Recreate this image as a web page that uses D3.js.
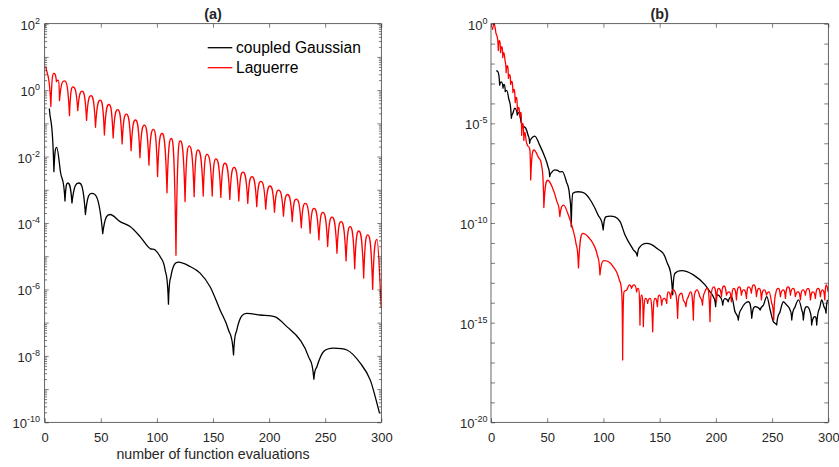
<!DOCTYPE html>
<html><head><meta charset="utf-8">
<script src="https://cdn.jsdelivr.net/npm/d3@7"></script>
<style>html,body{margin:0;padding:0;background:#fff;}</style>
</head><body>
<script>
// ---------- DATA ----------
const xTicks = [0, 50, 100, 150, 200, 250, 300];
const aYLabelExp = [2, 0, -2, -4, -6, -8, -10];
const bYLabelExp = [0, -5, -10, -15, -20];
const seriesNames = ["coupled Gaussian", "Laguerre"];
const titles = ["(a)", "(b)"];
const xLabel = "number of function evaluations";

// panel (a): coupled Gaussian
const aGaussX = [4.1,8.2,10.7,14.2,18.1,20.5,24.3,30.4,36.3,41.9,51.7,58.3,67.2,76.1,85,93.9,98.4,102.8,107.3,110.3,112.4,119.2,129.6,138.5,147.4,156.3,163.8,168.3,171.2,180.1,192,205.4,215.8,227.7,235.1,239.9,242.6,248.6,257.5,269.4,281.3,290.2,298.5];
const aGaussY = [0.28,3.5e-3,1.9e-2,3.2e-3,4.6e-4,1.6e-3,4.0e-4,1.6e-3,1.8e-4,7.8e-4,4.8e-5,1.8e-4,1.1e-4,7.8e-5,3.9e-5,1.7e-5,1.55e-5,9.8e-6,3.9e-6,3.6e-7,2.4e-6,6.6e-6,4.9e-6,3.1e-6,1.2e-6,2.4e-7,6.0e-8,1.07e-8,6.0e-8,1.9e-7,1.7e-7,1.5e-7,7.6e-8,3.0e-8,9.5e-9,2.0e-9,4.7e-9,1.35e-8,1.7e-8,1.5e-8,6.0e-9,1.86e-9,1.86e-10];

// panel (a): Laguerre
const aLagX = [1,5.5,8.2,10.5,12,13.2,17.5,22.1,25.1,29.5,33.3,37.3,41.2,45.3,49.5,53.2,57.3,61.0,65.1,69.0,72.8,77.0,80.9,84.9,88.8,92.9,96.9,100.6,104.5,109.0,112.8,117.0,120.8,125.1,128.8,133.2,136.6,141.3,144.6,149.3,152.6,157.0,160.6,165.0,168.8,173.0,176.7,181.0,184.7,189.0,192.6,197.0,200.8,204.8,208.4,212.8,216.4,220.6,224.2,228.7,232.2,236.6,240.0,244.4,247.9,252.2,256.1,260.5,264.1,268.6,272.2,276.3,279.9,284.3,287.9,292.3,296.2,300];
const aLagY = [5.2,0.32,3.2,1.8,2.0,0.48,1.9,0.17,1.26,0.24,0.93,0.123,0.68,0.076,0.50,0.045,0.37,0.036,0.26,0.024,0.19,0.015,0.126,9.3e-3,8.9e-2,5.5e-3,6.6e-2,2.5e-3,5.0e-2,8.1e-4,3.5e-2,1.07e-5,2.95e-2,4.4e-4,2.1e-2,6.2e-4,1.6e-2,6.5e-4,1.17e-2,6.5e-4,8.5e-3,5.9e-4,6.3e-3,5.1e-4,4.7e-3,4.6e-4,3.4e-3,3.9e-4,2.5e-3,3.1e-4,1.8e-3,2.6e-4,1.3e-3,2.1e-4,9.8e-4,1.6e-4,7.2e-4,1.1e-4,5.2e-4,7.2e-5,3.9e-4,4.9e-5,2.75e-4,3.1e-5,2.1e-4,1.95e-5,1.5e-4,1.23e-5,1.1e-4,7.2e-6,7.8e-5,4.2e-6,5.75e-5,2.2e-6,4.4e-5,1.0e-6,3.2e-5,2.7e-7];

// panel (b): coupled Gaussian
const bGaussX = [4.7,6.0,7.7,9.2,10.7,11.7,12.7,14.0,15.7,18.1,19.5,21.1,23.4,25.0,27.0,29.4,31.0,32.9,34.4,35.5,37.4,38.9,43.3,47.8,50.7,52.2,54.0,56.7,61.1,63.5,67.0,70.0,71.4,72.9,77.4,83.3,89.2,95.2,99.8,102.6,105.8,114.7,119.2,126.6,130.1,132.5,138.5,147.4,156.3,161.6,163.7,169.6,180.0,190.4,194.8,
  197.7,199.8,201.6,203.6,206.1,208.1,211,214,217,220,223,226,229,231.9,234.9,239.4,242.3,245.3,248.3,251.1,254.1,257.1,260,263,266,267.5,270.5,273.5,276.4,277.8,280.8,283.8,285.2,288.2,289.7,292.6,294.1,296.2,298,299.2];
const bGaussY = [4.4e-3,4.0e-3,8.3e-4,1.2e-3,5.8e-4,8.9e-4,3.9e-4,4.5e-4,1.8e-4,1.8e-5,3.2e-5,5.8e-5,2.6e-5,3.5e-5,1.0e-5,6.8e-6,5.6e-6,2.6e-6,1.0e-6,1.6e-6,2.1e-6,2.3e-6,8.1e-7,2.1e-7,6.6e-8,2.1e-8,3.5e-8,4.6e-8,3.7e-8,3.8e-8,1.2e-8,2.1e-9,6.5e-11,3.1e-9,3.7e-9,3.1e-9,1.2e-9,2.5e-10,4.5e-11,2.1e-10,2.2e-10,1.2e-10,2.5e-11,4.5e-12,2.2e-12,6.3e-12,9.5e-12,5.4e-12,1.15e-12,2.5e-14,3.0e-13,4.1e-13,2.5e-13,7.8e-14,3.5e-14,
  2.0e-14,6.3e-15,2.5e-14,2.0e-14,7.6e-15,1.6e-14,1.12e-14,2.0e-14,3.5e-15,1.35e-15,5.2e-15,9.3e-15,1.12e-14,1.66e-15,6.3e-15,4.3e-15,7.6e-15,2.0e-14,4.3e-15,1.12e-15,7.6e-16,3.5e-15,1.12e-14,7.6e-15,4.3e-15,1.35e-15,6.3e-15,1.38e-14,4.3e-15,1.35e-15,6.3e-15,3.5e-15,7.6e-16,2.0e-15,7.6e-16,6.3e-15,1.38e-14,6.3e-15,3.0e-15,1.38e-14];

// panel (b): Laguerre
const bLagX = [1.2,2.8,4.5,5.5,6.5,7.5,8.5,9.5,10.5,11.5,12.5,13.5,14.5,15.5,16.5,17.5,18.5,19.5,20.5,21.5,22.5,23.5,24.5,25.5,26.5,27.3,28.2,29.2,30.2,31.5,33.0,34.3,35.3,38.2,42.1,45.1,47.0,50.5,54.5,58.5,61.2,64.7,68.5,72.5,75.5,77.8,81.8,86.5,91.0,94.5,96.9,100.8,105,108.8,112,114.1,116.2,117.1,118.3,
  120.6,123,125,127.4,129.5,131,132.5,134,135.5,137.6,139.3,141.4,143.8,145.9,148,149.7,151.8,153.9,156.3,157.8,159.8,162.2,163.7,166,167.5,169.6,171,173.4,175.5,177.5,180,181.3,183.4,185.8,188.1,190.2,192.3,194.8,196,198.1,200.5,202.5,205,207.1,209.4,211.8,213.8,216,218.3,220.7,222.7,224.8,227.2,229.2,231.6,233.7,236.1,238.5,240.5,242.9,245,247.4,249.4,251.5,253.3,255.4,257.4,259.8,261.9,264.2,266.3,268.7,270.7,273.1,275.2,277.5,279.6,282,284.1,286.5,288.5,290.9,293,294.8,296.9,298.4,299.9];
const bLagY = [0.50,1.05,0.32,0.22,4.5e-2,0.14,3.5e-2,7.1e-2,2.0e-2,3.5e-2,1.4e-2,3.5e-3,7.9e-3,1.8e-3,2.8e-3,8.9e-4,1.26e-3,3.5e-4,5.0e-4,1.1e-4,2.0e-4,4.0e-5,6.3e-5,2.2e-5,3.5e-5,2.5e-6,1.0e-5,1.4e-6,3.5e-6,1.1e-6,7.1e-7,5.6e-7,1.45e-8,4.6e-7,2.0e-7,7.1e-8,6.0e-10,1.4e-8,6.3e-9,1.26e-9,2.1e-10,7.9e-10,2.8e-10,5.6e-11,1.0e-11,5.6e-13,3.0e-11,2.0e-11,8.9e-12,2.5e-12,2.5e-13,1.3e-12,1.1e-12,6.3e-13,3.2e-13,1.4e-13,3.5e-14,1.35e-17,3.5e-14,
  4.3e-14,7.8e-14,5.2e-14,7.8e-14,3.5e-14,5.2e-14,7.6e-16,2.4e-14,6.3e-16,1.66e-14,9.3e-15,1.66e-14,3.5e-16,1.66e-14,6.3e-15,2.4e-14,7.6e-15,1.66e-14,9.3e-15,3.5e-14,1.66e-14,4.4e-14,3.5e-14,1.66e-15,2.4e-14,3.0e-14,1.38e-14,6.3e-15,2.0e-14,3.5e-14,1.35e-15,3.0e-14,4.4e-14,2.0e-14,7.6e-15,3.5e-14,5.2e-14,1.12e-15,3.0e-14,6.3e-14,1.12e-14,5.2e-14,2.0e-14,6.9e-14,2.4e-14,3.5e-14,1.12e-14,5.2e-14,1.38e-14,6.3e-14,2.4e-14,4.4e-14,1.66e-14,6.3e-14,3.0e-14,7.8e-14,2.0e-14,5.2e-14,1.38e-14,4.4e-14,2.4e-14,3.5e-14,1.12e-14,1.35e-15,3.0e-14,5.2e-14,2.0e-14,4.4e-14,1.66e-14,6.3e-14,2.4e-14,5.2e-14,2.0e-14,3.5e-14,1.38e-14,4.4e-14,2.4e-14,5.2e-14,1.38e-14,3.5e-14,1.66e-14,5.2e-14,2.0e-14,4.4e-14,1.38e-14,7.8e-14,3.5e-14];

// ---------- RENDER ----------
const W = 839, H = 467;
const FONT = '"Liberation Sans", Arial, Helvetica, sans-serif';
const AX = '#262626';
const COLORS = ['#000000', '#ff0000'];

// cubic Hermite curve with sharp cusps at local minima (rendering style of the sampled data)
function CuspCurve(ctx) { this._context = ctx; }
CuspCurve.prototype = {
  areaStart() {}, areaEnd() {},
  lineStart() { this._p = []; },
  point(x, y) { this._p.push([+x, +y]); },
  lineEnd() {
    const p = this._p, n = p.length, c = this._context;
    if (!n) return;
    c.moveTo(p[0][0], p[0][1]);
    if (n === 1) return;
    const s = [];
    for (let i = 0; i < n - 1; i++) s.push((p[i+1][1] - p[i][1]) / (p[i+1][0] - p[i][0]));
    const tL = new Array(n).fill(0), tR = new Array(n).fill(0);
    tR[0] = s[0]; tL[n-1] = s[n-2];
    for (let i = 1; i < n - 1; i++) {
      const a = s[i-1], b = s[i];
      if (p[i][1] > p[i-1][1] && p[i][1] > p[i+1][1]) { tL[i] = 3 * a; tR[i] = 3 * b; }
      else if (a * b <= 0) { tL[i] = 0; tR[i] = 0; }
      else {
        let t = (a + b) / 2;
        const lim = 3 * Math.min(Math.abs(a), Math.abs(b));
        if (Math.abs(t) > lim) t = Math.sign(t) * lim;
        tL[i] = t; tR[i] = t;
      }
    }
    for (let i = 0; i < n - 1; i++) {
      const [x0, y0] = p[i], [x1, y1] = p[i+1];
      const h = x1 - x0, d = s[i];
      let m0 = tR[i], m1 = tL[i+1];
      if (d === 0) { m0 = 0; m1 = 0; }
      else {
        let al = Math.max(0, m0 / d), be = Math.max(0, m1 / d);
        const r = al * al + be * be;
        if (r > 9) { const tau = 3 / Math.sqrt(r); al *= tau; be *= tau; }
        m0 = al * d; m1 = be * d;
      }
      c.bezierCurveTo(x0 + h / 3, y0 + m0 * h / 3, x1 - h / 3, y1 - m1 * h / 3, x1, y1);
    }
  }
};
const curveCusp = ctx => new CuspCurve(ctx);

const svg = d3.select('body').append('svg')
  .attr('width', W).attr('height', H)
  .style('font-family', FONT);

const panels = [
  { left: 44.7, right: 381.3, top: 23.7, bottom: 422.3, ydom: [1e-10, 1e2], labelExp: aYLabelExp,
    decadeStep: 1, minor: true, labelPad: 4.7, title: titles[0], xlabel: true, legend: true,
    series: [[aGaussX, aGaussY], [aLagX, aLagY]] },
  { left: 491, right: 828.3, top: 23.7, bottom: 422.3, ydom: [1e-20, 1e0], labelExp: bYLabelExp,
    decadeStep: 1, minor: false, labelPad: 3.5, title: titles[1], xlabel: false, legend: false,
    series: [[bGaussX, bGaussY], [bLagX, bLagY]] }
];

panels.forEach((P, pi) => {
  const x = d3.scaleLinear().domain([0, 300]).range([P.left, P.right]);
  const y = d3.scaleLog().domain(P.ydom).range([P.bottom, P.top]);
  const g = svg.append('g');

  const e0 = Math.round(Math.log10(P.ydom[0])), e1 = Math.round(Math.log10(P.ydom[1]));
  const decades = d3.range(e0, e1 + 1).map(e => Math.pow(10, e));
  const minors = [];
  if (P.minor) for (let e = e0; e < e1; e++) for (let k = 2; k <= 9; k++) minors.push(k * Math.pow(10, e));
  const labelVals = P.labelExp.map(e => Math.pow(10, e));

  const styleAxis = sel => { sel.select('.domain').remove(); sel.attr('color', AX).selectAll('line').attr('stroke-width', 0.6); };

  // clip
  const clipId = 'clip' + pi;
  svg.append('clipPath').attr('id', clipId).append('rect')
    .attr('x', P.left).attr('y', P.top - 1).attr('width', P.right - P.left).attr('height', P.bottom - P.top + 2);

  // series
  const line = d3.line().x(d => x(d[0])).y(d => y(d[1])).curve(curveCusp);
  P.series.forEach((s, si) => {
    g.append('path').datum(d3.zip(s[0], s[1]))
      .attr('clip-path', `url(#${clipId})`)
      .attr('fill', 'none').attr('stroke', COLORS[si]).attr('stroke-width', 1.3)
      .attr('stroke-linejoin', 'round').attr('d', line);
  });

  // frame
  g.append('rect').attr('x', P.left).attr('y', P.top).attr('width', P.right - P.left).attr('height', P.bottom - P.top)
    .attr('fill', 'none').attr('stroke', AX).attr('stroke-width', 0.7);

  // x axes
  const gx = g.append('g').attr('transform', `translate(0,${P.bottom})`)
    .call(d3.axisBottom(x).tickValues(xTicks).tickSize(-4).tickSizeOuter(0).tickPadding(0).tickFormat(d3.format('d')));
  styleAxis(gx);
  gx.attr('font-size', 13).attr('font-family', FONT);
  gx.selectAll('.tick text').attr('y', 19.3).attr('dy', null);
  g.append('g').attr('transform', `translate(0,${P.top})`)
    .call(d3.axisTop(x).tickValues(xTicks).tickSize(-4).tickSizeOuter(0).tickFormat(''))
    .call(styleAxis);

  // y axes: decade ticks (left & right), minor ticks
  g.append('g').attr('transform', `translate(${P.left},0)`)
    .call(d3.axisLeft(y).tickValues(decades).tickSize(-4).tickSizeOuter(0).tickFormat('')).call(styleAxis);
  g.append('g').attr('transform', `translate(${P.right},0)`)
    .call(d3.axisRight(y).tickValues(decades).tickSize(-4).tickSizeOuter(0).tickFormat('')).call(styleAxis);
  if (minors.length) {
    g.append('g').attr('transform', `translate(${P.left},0)`)
      .call(d3.axisLeft(y).tickValues(minors).tickSize(-2.4).tickSizeOuter(0).tickFormat('')).call(styleAxis);
    g.append('g').attr('transform', `translate(${P.right},0)`)
      .call(d3.axisRight(y).tickValues(minors).tickSize(-2.4).tickSizeOuter(0).tickFormat('')).call(styleAxis);
  }
  // y labels
  const gy = g.append('g').attr('transform', `translate(${P.left},0)`)
    .call(d3.axisLeft(y).tickValues(labelVals).tickSize(0).tickSizeOuter(0).tickPadding(P.labelPad));
  gy.select('.domain').remove();
  gy.attr('color', AX).attr('font-size', 13).attr('font-family', FONT);
  gy.selectAll('.tick text').each(function (d) {
    const t = d3.select(this);
    t.text(null).attr('dy', null).attr('y', 5.5);
    t.append('tspan').text('10');
    t.append('tspan').attr('dy', -6).attr('font-size', 9).text(String(Math.round(Math.log10(d))));
  });

  // title
  g.append('text').attr('x', (P.left + P.right) / 2).attr('y', 18.5).attr('text-anchor', 'middle')
    .attr('font-weight', 'bold').attr('font-size', 14.5).attr('fill', AX).text(P.title);

  if (P.xlabel) {
    g.append('text').attr('x', (P.left + P.right) / 2).attr('y', 458.5).attr('text-anchor', 'middle')
      .attr('font-size', 14.2).attr('fill', AX).text(xLabel);
  }

  if (P.legend) {
    const lg = g.append('g');
    seriesNames.forEach((name, i) => {
      const ly = 47.7 + i * 20;
      lg.append('line').attr('x1', 207.7).attr('x2', 232.3).attr('y1', ly).attr('y2', ly)
        .attr('stroke', COLORS[i]).attr('stroke-width', 1.3);
      lg.append('text').attr('x', 236).attr('y', ly + 5.6).attr('font-size', 15.6).attr('fill', '#000').text(name);
    });
  }
});
</script>
</body></html>
